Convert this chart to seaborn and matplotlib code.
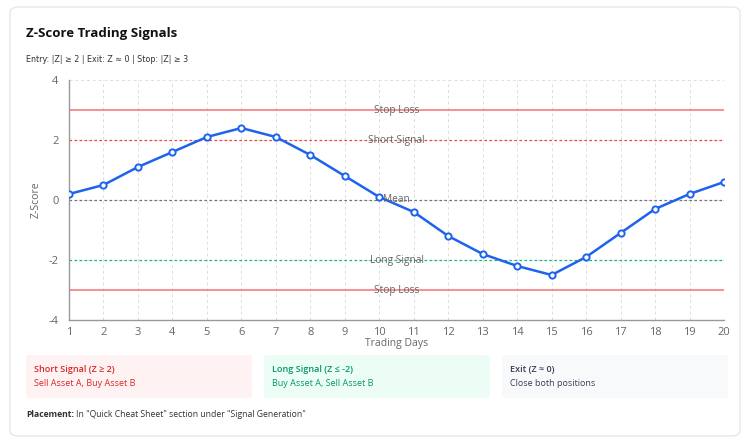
import matplotlib
matplotlib.use("Agg")
import matplotlib.pyplot as plt
import seaborn as sns
import pandas as pd
from matplotlib.patches import FancyBboxPatch

sns.set_style("white")
plt.rcParams['font.family'] = ['Open Sans', 'DejaVu Sans']
plt.rcParams['axes.unicode_minus'] = False

# datos
dias = list(range(1, 21))
zscore = [0.2, 0.5, 1.1, 1.6, 2.1, 2.4, 2.1, 1.5, 0.8, 0.1,
          -0.4, -1.2, -1.8, -2.2, -2.5, -1.9, -1.1, -0.3, 0.2, 0.6]

umbrales = [3, 2, 0, -2, -3]
umbral_nombres = ["Stop Loss", "Short Signal", "Mean", "Long Signal", "Stop Loss"]
umbral_colores = ["#f87171", "#ef4444", "#6b7280", "#10b981", "#f87171"]
umbral_estilos = ["-", (0, (2, 2)), (0, (2, 2)), (0, (2, 2)), "-"]

df = pd.DataFrame({"dia": dias, "z": zscore})

fig = plt.figure(figsize=(7.51, 4.44), dpi=100)
W, H = 751, 444

# tarjeta de fondo
card = FancyBboxPatch((10 / W, 8 / H), 730 / W, 429 / H,
                      boxstyle="round,pad=0,rounding_size=0.012",
                      transform=fig.transFigure, facecolor="white",
                      edgecolor="#e5e7eb", linewidth=1, zorder=-5)
fig.patches.append(card)

ax = fig.add_axes([69 / W, 1 - 320 / H, (724 - 69) / W, 240 / H])
ax.set_zorder(5)
ax.patch.set_alpha(0)

for y, nombre, c, ls in zip(umbrales, umbral_nombres, umbral_colores, umbral_estilos):
    ax.axhline(y, color=c, linestyle=ls, linewidth=1.1 if ls == "-" else 0.9, zorder=2)
    ax.text(10.5, y, nombre, ha="center", va="center", fontsize=7.3,
            color="#666666", zorder=5)

sns.lineplot(data=df, x="dia", y="z", ax=ax, color="#1d63ed", linewidth=1.8,
             marker="o", markersize=4.5, markerfacecolor="white",
             markeredgecolor="#1d63ed", markeredgewidth=1.4, zorder=4)

ax.set_xlim(1, 20)
ax.set_ylim(-4, 4)
ax.set_xticks(dias)
ax.set_yticks([-4, -2, 0, 2, 4])
ax.grid(True, linestyle=(0, (3, 3)), color="#dddddd", linewidth=0.7)
ax.set_axisbelow(True)
for s in ["top", "right"]:
    ax.spines[s].set_visible(False)
for s in ["left", "bottom"]:
    ax.spines[s].set_color("#999999")
    ax.spines[s].set_linewidth(1)
ax.tick_params(axis="both", labelsize=8, colors="#666666", length=4, width=0.8)
ax.tick_params(axis="x", pad=1)
ax.set_xlabel("Trading Days", fontsize=7.5, color="#666666", labelpad=0)
ax.set_ylabel("Z-Score", fontsize=7.5, color="#666666", labelpad=5)

fig.text(26 / W, 1 - 33 / H, "Z-Score Trading Signals", fontsize=9.5,
         fontweight="bold", color="#111111", va="center")
fig.text(26 / W, 1 - 60 / H, "Entry: |Z| ≥ 2 | Exit: Z ≈ 0 | Stop: |Z| ≥ 3",
         fontsize=5.8, color="#333333", va="center", family=['DejaVu Sans'])

# cajas de leyenda
cajas = [
    (26, "Short Signal (Z ≥ 2)", "Sell Asset A, Buy Asset B", "#fef2f2", "#dc2626", "#dc2626"),
    (264, "Long Signal (Z ≤ -2)", "Buy Asset A, Sell Asset B", "#ecfdf5", "#059669", "#059669"),
    (502, "Exit (Z ≈ 0)", "Close both positions", "#f8f9fb", "#374151", "#374151"),
]
for x0, t1, t2, bg, c1, c2 in cajas:
    fig.patches.append(FancyBboxPatch((x0 / W, 1 - 398 / H), 226 / W, 43 / H,
                                      boxstyle="round,pad=0,rounding_size=0.005",
                                      transform=fig.transFigure, facecolor=bg,
                                      edgecolor="none", zorder=-4))
    fig.text((x0 + 8) / W, 1 - 369 / H, t1, fontsize=6.5, color=c1,
             fontweight="semibold", va="center")
    fig.text((x0 + 8) / W, 1 - 383 / H, t2, fontsize=6.5, color=c2, va="center")

fig.text(26 / W, 1 - 414 / H, "Placement:", fontsize=6.2, color="#333333",
         fontweight="bold", va="center")
fig.text(76 / W, 1 - 414 / H, "In \"Quick Cheat Sheet\" section under \"Signal Generation\"",
         fontsize=6.2, color="#333333", va="center")

fig.savefig("out.png", dpi=100, facecolor="white")
